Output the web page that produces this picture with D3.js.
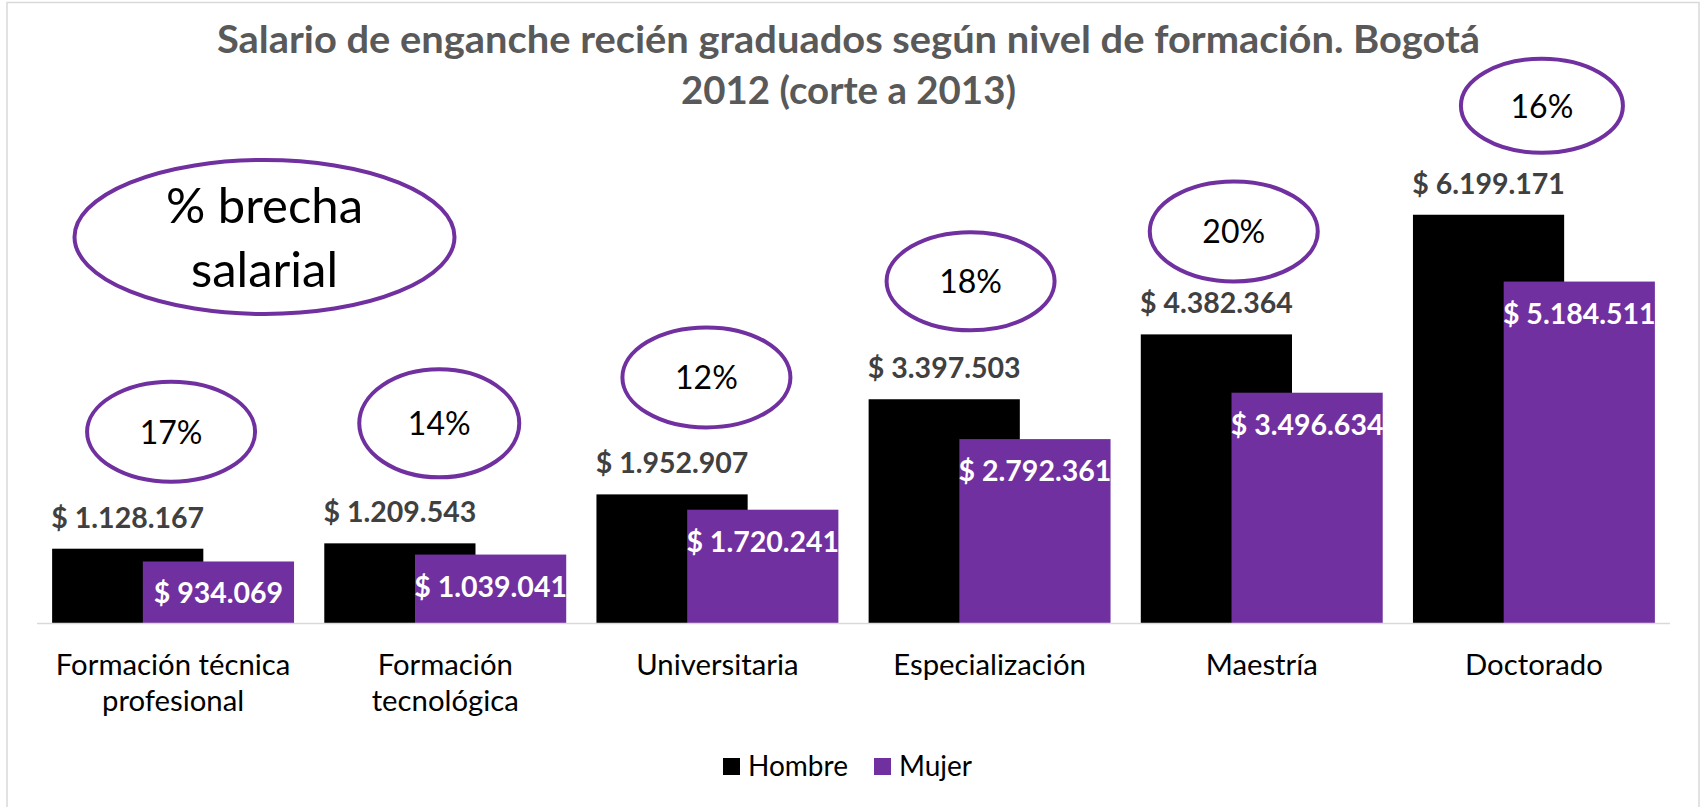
<!DOCTYPE html>
<html>
<head>
<meta charset="utf-8">
<script src="https://cdn.jsdelivr.net/npm/d3@7/dist/d3.min.js"></script>
<style>
    body { margin: 0; background: #fff; }
    svg text { font-family: Lato, "Open Sans", sans-serif; }
</style>
</head>
<body>
<div id="chart"></div>
<script>

var titleLines = ["Salario de enganche recién graduados según nivel de formación. Bogotá",
		  "2012 (corte a 2013)"];
var categories = ["Formación técnica\nprofesional", "Formación\ntecnológica", "Universitaria",
		  "Especialización", "Maestría", "Doctorado"];
var series = ["Hombre", "Mujer"];
var hombre = [1128167, 1209543, 1952907, 3397503, 4382364, 6199171];
var mujer = [934069, 1039041, 1720241, 2792361, 3496634, 5184511];
var gapTitle = ["% brecha", "salarial"];

// hand placed bubbles, offset from the hombre bar top
var bubbles = [{dx: -2, dy: -117, rx: 84, ry: 50},
	       {dx: -6, dy: -120, rx: 80, ry: 54},
	       {dx: -11, dy: -117, rx: 84, ry: 50},
	       {dx: -19, dy: -118, rx: 84, ry: 49},
	       {dx: -28, dy: -103, rx: 84, ry: 50},
	       {dx: 8, dy: -109, rx: 81, ry: 47}];

var W = 1701, H = 807;
var purple = "#7030a0";

var locale = d3.formatLocale({decimal: ",", thousands: ".", grouping: [3], currency: ["$ ", ""]});
var money = locale.format("$,d");
var pct = d3.format(".0%");

var svg = d3.select("#chart").append("svg")
    .attr("width", W).attr("height", H);

svg.append("rect")
    .attr("x", 7).attr("y", 2.5).attr("width", 1692).attr("height", 830)
    .attr("fill", "#fff").attr("stroke", "#d9d9d9").attr("stroke-width", 1.5);

var x = d3.scaleBand().domain(categories).range([37, 1670]);
var y = d3.scaleLinear().domain([0, 7000000]).range([623, 162]);

var step = x.bandwidth();
var barW = step / 1.8;
function hx(i) { return x(categories[i]) + step / 2 - barW * 0.8; }
function mx(i) { return hx(i) + barW * 0.6; }

// title
svg.selectAll("text.title").data(titleLines).enter()
    .append("text").attr("class", "title")
    .attr("x", 848.5)
    .attr("y", function(d, i) { return 52.5 + i * 51; })
    .attr("text-anchor", "middle")
    .attr("font-size", 38.5).attr("font-weight", "bold")
    .attr("fill", "#595959")
    .attr("textLength", function(d, i) { return i == 0 ? 1263 : 335; })
    .attr("lengthAdjust", "spacingAndGlyphs")
    .text(function(d) { return d; });

var idx = d3.range(categories.length);

svg.selectAll("rect.h").data(idx).enter()
    .append("rect").attr("class", "h")
    .attr("x", hx).attr("width", barW)
    .attr("y", function(i) { return y(hombre[i]); })
    .attr("height", function(i) { return y(0) - y(hombre[i]); })
    .attr("fill", "#000");

svg.selectAll("rect.m").data(idx).enter()
    .append("rect").attr("class", "m")
    .attr("x", mx).attr("width", barW)
    .attr("y", function(i) { return y(mujer[i]); })
    .attr("height", function(i) { return y(0) - y(mujer[i]); })
    .attr("fill", purple);

svg.append("line")
    .attr("x1", x.range()[0]).attr("x2", x.range()[1])
    .attr("y1", y(0) + 0.5).attr("y2", y(0) + 0.5)
    .attr("stroke", "#d9d9d9").attr("stroke-width", 1.5);

svg.selectAll("text.hl").data(idx).enter()
    .append("text").attr("class", "hl")
    .attr("x", function(i) { return hx(i) + barW / 2; })
    .attr("y", function(i) { return y(hombre[i]) - 21; })
    .attr("text-anchor", "middle")
    .attr("font-size", 28.5).attr("font-weight", "bold")
    .attr("fill", "#404040")
    .text(function(i) { return money(hombre[i]); });

svg.selectAll("text.ml").data(idx).enter()
    .append("text").attr("class", "ml")
    .attr("x", function(i) { return mx(i) + barW / 2; })
    .attr("y", function(i) { return y(mujer[i]) + 42; })
    .attr("text-anchor", "middle")
    .attr("font-size", 28.5).attr("font-weight", "bold")
    .attr("fill", "#fff")
    .text(function(i) { return money(mujer[i]); });

// category labels
var cat = svg.selectAll("text.cat").data(categories).enter()
    .append("text").attr("class", "cat")
    .attr("text-anchor", "middle")
    .attr("font-size", 29.3).attr("fill", "#000");
cat.selectAll("tspan").data(function(d) { return d.split("\n"); }).enter()
    .append("tspan")
    .attr("x", function() { return x(this.parentNode.__data__) + step / 2; })
    .attr("y", function(d, i) { return 675 + i * 36; })
    .text(function(d) { return d; });

// gap bubbles
var bub = svg.selectAll("g.bub").data(idx).enter()
    .append("g").attr("class", "bub")
    .attr("transform", function(i) {
	return "translate(" + (x(categories[i]) + step / 2 + bubbles[i].dx) + ","
	    + (y(hombre[i]) + bubbles[i].dy) + ")";
    });
bub.append("ellipse")
    .attr("rx", function(i) { return bubbles[i].rx; })
    .attr("ry", function(i) { return bubbles[i].ry; })
    .attr("fill", "#fff").attr("stroke", purple).attr("stroke-width", 4);
bub.append("text")
    .attr("y", 12).attr("text-anchor", "middle")
    .attr("font-size", 32).attr("fill", "#000")
    .text(function(i) { return pct((hombre[i] - mujer[i]) / hombre[i]); });

var big = svg.append("g").attr("transform", "translate(264.5,237)");
big.append("ellipse").attr("rx", 190).attr("ry", 77)
    .attr("fill", "#fff").attr("stroke", purple).attr("stroke-width", 4);
big.selectAll("text").data(gapTitle).enter()
    .append("text")
    .attr("y", function(d, i) { return -14 + i * 64; })
    .attr("text-anchor", "middle")
    .attr("font-size", 49).attr("fill", "#000")
    .text(function(d) { return d; });

// legend
var leg = svg.selectAll("g.leg").data(series).enter()
    .append("g").attr("class", "leg")
    .attr("transform", function(d, i) { return "translate(" + (723 + i * 151) + ",758)"; });
leg.append("rect").attr("width", 17).attr("height", 17)
    .attr("fill", function(d, i) { return i == 0 ? "#000" : purple; });
leg.append("text").attr("x", 25).attr("y", 18)
    .attr("font-size", 28).attr("fill", "#000")
    .text(function(d) { return d; });

</script>
</body>
</html>
